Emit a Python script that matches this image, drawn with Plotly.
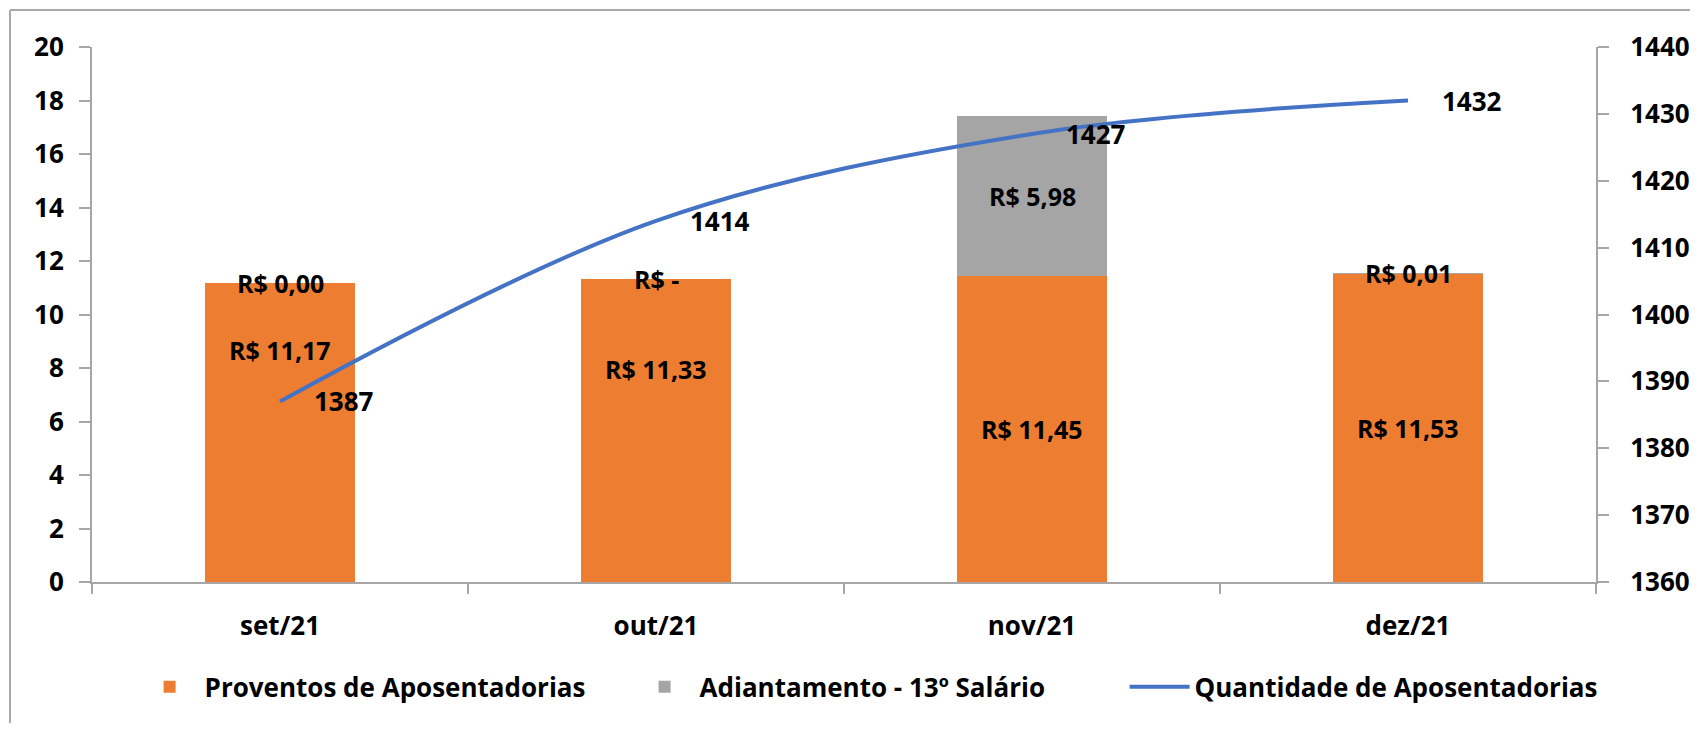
import plotly.graph_objects as go

# ---- data ----
meses = ["set/21", "out/21", "nov/21", "dez/21"]
proventos = [11.17, 11.33, 11.45, 11.53]
adiantamento = [0.00, 0.00, 5.98, 0.01]
adiantamento_txt = ["R$ 0,00", "R$ -", "R$ 5,98", "R$ 0,01"]
quantidade = [1387, 1414, 1427, 1432]

# ---- style ----
FONT = "Open Sans"
ORANGE = "#ED7D31"
GRAY = "#A5A5A5"
BLUE = "#4472C4"
AXIS = "#A6A6A6"
W, H = 1682, 715          # page body has an 8px margin
L, T, R = 84, 39, 94
PW, PH = W - L - R, 535
B = H - T - PH

def f(size):
    return dict(family=FONT, size=size, color="black", weight="bold")

def brl(v):
    return "R$ " + f"{v:.2f}".replace(".", ",")

fig = go.Figure()
fig.add_trace(go.Bar(x=meses, y=proventos, name="Proventos de Aposentadorias",
                     marker=dict(color=ORANGE, line=dict(width=0)), hoverinfo="skip"))
fig.add_trace(go.Bar(x=meses, y=adiantamento, name="Adiantamento - 13º Salário",
                     marker=dict(color=GRAY, line=dict(width=0)), hoverinfo="skip"))
fig.add_trace(go.Scatter(x=meses, y=quantidade, name="Quantidade de Aposentadorias",
                         yaxis="y2", mode="lines",
                         line=dict(color=BLUE, width=4, shape="spline", smoothing=1.0)))

# label placement (fraction of bar height where the orange label sits; Excel labels moved by hand)
label_frac = [0.776, 0.703, 0.5, 0.5]
ann = []
for i, m in enumerate(meses):
    ann.append(dict(x=m, y=proventos[i] * label_frac[i], xref="x", yref="y",
                    text=brl(proventos[i]), showarrow=False, font=f(25)))
    ann.append(dict(x=m, y=proventos[i] + adiantamento[i] / 2, xref="x", yref="y",
                    text=adiantamento_txt[i], showarrow=False, font=f(25)))
    ann.append(dict(x=m, y=quantidade[i], xref="x", yref="y2", text=str(quantidade[i]),
                    showarrow=False, font=f(26), xshift=64))

bx = (2 - L) / PW
by = (PH + T - 2) / PH

fig.update_layout(
    width=W, height=H,
    margin=dict(l=L, r=R, t=T, b=B, autoexpand=False),
    paper_bgcolor="white", plot_bgcolor="white",
    barmode="stack", bargap=0.6,
    font=dict(family=FONT, size=25, color="black"),
    showlegend=True,
    legend=dict(orientation="h", x=0.522, xanchor="center", y=-0.196, yanchor="middle",
                font=f(26), itemwidth=60, traceorder="normal", entrywidth=420),
    xaxis=dict(type="category", showline=True, linecolor=AXIS, linewidth=2,
               ticks="outside", tickson="boundaries", ticklen=10, tickwidth=2, tickcolor=AXIS,
               tickfont=f(26), showgrid=False, zeroline=False, ticklabelstandoff=20),
    yaxis=dict(range=[0, 20], dtick=2, showline=True, linecolor=AXIS, linewidth=2,
               ticks="outside", ticklen=11, tickwidth=2, tickcolor=AXIS,
               tickfont=f(26), showgrid=False, zeroline=False, ticklabelstandoff=10),
    yaxis2=dict(range=[1360, 1440], dtick=10, overlaying="y", side="right",
                showline=True, linecolor=AXIS, linewidth=2,
                ticks="outside", ticklen=11, tickwidth=2, tickcolor=AXIS,
                tickfont=f(26), showgrid=False, zeroline=False, ticklabelstandoff=16),
    annotations=ann,
    shapes=[
        dict(type="line", xref="paper", yref="paper", x0=bx, x1=1.2,
             y0=by, y1=by, line=dict(color="#A9A9A9", width=2)),
        dict(type="line", xref="paper", yref="paper", x0=bx, x1=bx,
             y0=by, y1=-0.5, line=dict(color="#A9A9A9", width=2)),
    ],
)

fig.write_html("out.html")
